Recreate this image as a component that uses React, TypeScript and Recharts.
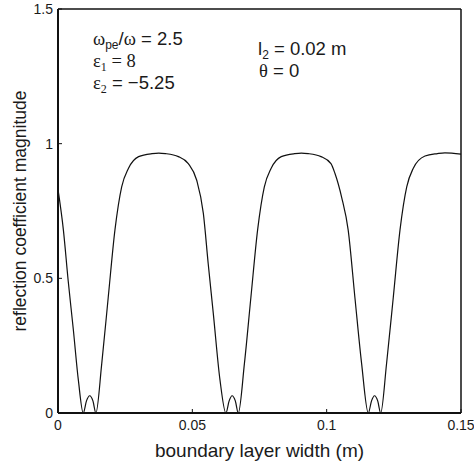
import React from "react";
import { LineChart, Line, XAxis, YAxis, Label, Customized } from "recharts";

const widthM = [
  0, 0.002, 0.0038, 0.0057, 0.0076, 0.0094, 0.0106, 0.0118, 0.013, 0.0141,
  0.0163, 0.0187, 0.0212, 0.0237, 0.0262, 0.03, 0.035, 0.0375, 0.04, 0.0448,
  0.0485, 0.0516, 0.0541, 0.0559, 0.0578, 0.0603, 0.0625, 0.0637, 0.0648, 0.066,
  0.0671, 0.0694, 0.0718, 0.0743, 0.0768, 0.0793, 0.0831, 0.0881, 0.0906, 0.0931,
  0.0979, 0.1016, 0.1031, 0.1056, 0.108, 0.1105, 0.113, 0.1155, 0.1167, 0.1178,
  0.119, 0.1201, 0.1223, 0.1248, 0.1273, 0.1298, 0.1322, 0.1366, 0.1412, 0.144,
  0.15,
];
const reflMag = [
  0.83, 0.68, 0.49, 0.31, 0.12, 0, 0.045, 0.064, 0.045, 0,
  0.185, 0.43, 0.68, 0.84, 0.908, 0.952, 0.963, 0.965, 0.963, 0.952,
  0.926, 0.865, 0.741, 0.555, 0.37, 0.122, 0, 0.045, 0.064, 0.045,
  0, 0.185, 0.43, 0.68, 0.84, 0.908, 0.952, 0.963, 0.965, 0.963,
  0.952, 0.926, 0.889, 0.8, 0.68, 0.43, 0.184, 0, 0.045, 0.064,
  0.045, 0, 0.184, 0.43, 0.68, 0.84, 0.908, 0.954, 0.963, 0.966,
  0.961,
];
const xTicks = [0, 0.05, 0.1, 0.15];
const yTicks = [0, 0.5, 1, 1.5];

const data = widthM.map((x, i) => ({ x, r: reflMag[i] }));

const SANS = "'Liberation Sans', Arial, sans-serif";
const SERIF = "'Liberation Serif', 'Times New Roman', serif";
const TXT = "#1a1a1a";

const Annotations = () => (
  <g fill={TXT} fontSize={18.5} fontFamily={SANS}>
    <text x={93} y={45}>
      <tspan fontFamily={SERIF}>ω</tspan>
      <tspan fontSize={12} dy={4}>pe</tspan>
      <tspan dy={-4}>/</tspan>
      <tspan fontFamily={SERIF}>ω</tspan>
      <tspan> = 2.5</tspan>
    </text>
    <text x={93} y={67} fontFamily={SERIF}>
      <tspan>ε</tspan>
      <tspan fontSize={12} dy={4}>1</tspan>
      <tspan dy={-4}> = 8</tspan>
    </text>
    <text x={93} y={89}>
      <tspan fontFamily={SERIF}>ε</tspan>
      <tspan fontFamily={SERIF} fontSize={12} dy={4}>2</tspan>
      <tspan dy={-4}> = −5.25</tspan>
    </text>
    <text x={258} y={55}>
      <tspan>l</tspan>
      <tspan fontSize={12} dy={4}>2</tspan>
      <tspan dy={-4}> = 0.02 m</tspan>
    </text>
    <text x={259} y={77}>
      <tspan fontFamily={SERIF}>θ</tspan>
      <tspan> = 0</tspan>
    </text>
  </g>
);

export default function App() {
  return (
    <div style={{ position: "absolute", left: 0, top: 0, background: "#fff" }}>
      <LineChart
        width={474}
        height={466}
        data={data}
        margin={{ top: 8, right: 12, bottom: 0, left: 0 }}
      >
        <XAxis
          xAxisId="b"
          dataKey="x"
          type="number"
          domain={[0, 0.15]}
          ticks={xTicks}
          interval={0}
          height={53}
          tickSize={-4}
          tickMargin={11}
          axisLine={{ stroke: "#111", strokeWidth: 2 }}
          tickLine={{ stroke: "#111" }}
          tick={{ fill: TXT, fontSize: 14, fontFamily: SANS }}
          allowDataOverflow
        >
          <Label
            value="boundary layer width (m)"
            position="insideBottom"
            offset={9}
            style={{ fill: TXT, fontSize: 19, fontFamily: SANS }}
          />
        </XAxis>
        <XAxis
          xAxisId="t"
          dataKey="x"
          type="number"
          orientation="top"
          domain={[0, 0.15]}
          ticks={xTicks}
          interval={0}
          height={1}
          tickSize={-4}
          tick={false}
          axisLine={{ stroke: "#111", strokeWidth: 1.5 }}
          tickLine={{ stroke: "#111" }}
          allowDataOverflow
        />
        <YAxis
          yAxisId="l"
          type="number"
          domain={[0, 1.5]}
          ticks={yTicks}
          interval={0}
          width={58}
          tickSize={-4}
          tickMargin={9}
          axisLine={{ stroke: "#111", strokeWidth: 2 }}
          tickLine={{ stroke: "#111" }}
          tick={{ fill: TXT, fontSize: 14, fontFamily: SANS }}
          allowDataOverflow
        >
          <Label
            value="reflection coefficient magnitude"
            angle={-90}
            position="insideLeft"
            offset={20}
            style={{ fill: TXT, fontSize: 17.5, fontFamily: SANS, textAnchor: "middle" }}
          />
        </YAxis>
        <YAxis
          yAxisId="r"
          type="number"
          orientation="right"
          domain={[0, 1.5]}
          ticks={yTicks}
          interval={0}
          width={1}
          tickSize={-4}
          tick={false}
          axisLine={{ stroke: "#111", strokeWidth: 1.5 }}
          tickLine={{ stroke: "#111" }}
          allowDataOverflow
        />
        <Line
          xAxisId="b"
          yAxisId="l"
          dataKey="r"
          type="monotone"
          stroke="#111"
          strokeWidth={1.2}
          dot={false}
          isAnimationActive={false}
        />
        <Line
          xAxisId="t"
          yAxisId="r"
          dataKey="r"
          type="monotone"
          stroke="none"
          strokeWidth={0}
          dot={false}
          activeDot={false}
          legendType="none"
          isAnimationActive={false}
        />
        <Customized component={Annotations} />
      </LineChart>
    </div>
  );
}
